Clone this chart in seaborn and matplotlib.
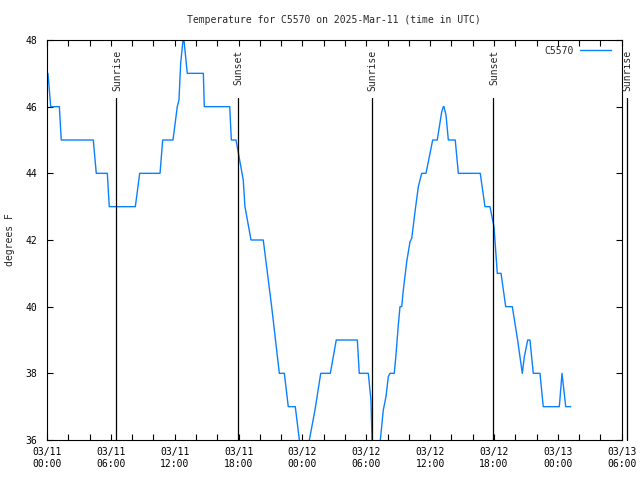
import matplotlib
matplotlib.use('Agg')
import matplotlib.pyplot as plt
import matplotlib.transforms as mtransforms
from matplotlib.ticker import FixedLocator, MultipleLocator
import pandas as pd
import seaborn as sns

# hours since 2025-03-11 00:00 UTC, temperature in F
hours = [0.09, 0.35, 1.16, 1.34, 4.35, 4.63, 5.67, 5.85, 8.30, 8.71,
         10.62, 10.87, 11.84, 12.24, 12.40, 12.56, 12.78, 12.87, 13.18, 14.69,
         14.78, 17.17, 17.32, 17.76, 18.44, 18.60, 19.17, 20.32, 21.11, 21.83,
         22.30, 22.67, 23.33, 23.71, 23.96, 24.43, 24.65, 25.18, 25.72, 26.62,
         27.18, 29.16, 29.34, 30.19, 30.44, 30.54, 30.72, 31.10, 31.32, 31.60,
         31.85, 32.07, 32.23, 32.63, 32.79, 33.01, 33.17, 33.33, 33.48, 33.80,
         34.11, 34.27, 34.58, 34.89, 35.21, 35.61, 35.99, 36.24, 36.67, 37.09,
         37.24, 37.30, 37.49, 37.71, 38.36, 38.65, 40.71, 41.15, 41.62, 42.00,
         42.31, 42.66, 43.10, 43.72, 44.22, 44.66, 44.85, 45.17, 45.38, 45.69,
         46.32, 46.63, 48.14, 48.39, 48.74, 49.21]
temps = [47.0, 46.0, 46.0, 45.0, 45.0, 44.0, 44.0, 43.0, 43.0, 44.0,
         44.0, 45.0, 45.0, 46.0, 46.2, 47.3, 48.0, 48.0, 47.0, 47.0,
         46.0, 46.0, 45.0, 45.0, 43.8, 43.0, 42.0, 42.0, 40.0, 38.0,
         38.0, 37.0, 37.0, 36.0, 35.5, 35.5, 36.0, 36.9, 38.0, 38.0,
         39.0, 39.0, 38.0, 38.0, 37.2, 36.0, 35.5, 35.5, 36.0, 36.9,
         37.3, 37.9, 38.0, 38.0, 38.55, 39.45, 40.0, 40.0, 40.5, 41.35,
         41.95, 42.05, 42.85, 43.6, 44.0, 44.0, 44.6, 45.0, 45.0, 45.85,
         46.0, 46.0, 45.75, 45.0, 45.0, 44.0, 44.0, 43.0, 43.0, 42.4,
         41.0, 41.0, 40.0, 40.0, 39.0, 38.0, 38.5, 39.0, 39.0, 38.0,
         38.0, 37.0, 37.0, 38.0, 37.0, 37.0]

event_hours = [6.51, 17.9, 30.5, 41.93, 54.47]
event_names = ['Sunrise', 'Sunset', 'Sunrise', 'Sunset', 'Sunrise']

tick_hours = [0, 6, 12, 18, 24, 30, 36, 42, 48, 54]
tick_labels = ['03/11\n00:00', '03/11\n06:00', '03/11\n12:00', '03/11\n18:00',
               '03/12\n00:00', '03/12\n06:00', '03/12\n12:00', '03/12\n18:00',
               '03/13\n00:00', '03/13\n06:00']

sns.set_style('ticks')
plt.rcParams['font.family'] = ['DejaVu Sans Mono']
plt.rcParams['font.size'] = 7

fig = plt.figure(figsize=(6.4, 4.8), dpi=100)
ax = fig.add_axes([47 / 640, 40 / 480, 574.7 / 640, 400 / 480])

df = pd.DataFrame({'hours': hours, 'temp': temps})
sns.lineplot(data=df, x='hours', y='temp', ax=ax, color='#0a80ff', lw=1.0,
             label='C5570', sort=False, estimator=None)

ax.set_xlim(0, 54)
ax.set_ylim(36, 48)
ax.xaxis.set_major_locator(FixedLocator(tick_hours))
ax.set_xticklabels(tick_labels)
ax.xaxis.set_minor_locator(MultipleLocator(2))
ax.yaxis.set_major_locator(MultipleLocator(2))
ax.tick_params(which='both', direction='in', top=True, right=True,
               length=4, width=0.8, colors='black', labelsize=7)
ax.tick_params(axis='x', pad=5)
ax.tick_params(axis='y', pad=7)
for s in ax.spines.values():
    s.set_linewidth(0.8)
    s.set_color('black')

# sunrise / sunset markers
trans = mtransforms.blended_transform_factory(ax.transData, ax.transAxes)
for t, name in zip(event_hours, event_names):
    ax.plot([t, t], [0, 0.855], color='black', lw=0.9, transform=trans, clip_on=False)
    ax.text(t + 0.1, 0.975, name, rotation=90, ha='center', va='top',
            transform=trans, fontsize=7, clip_on=False)

ax.set_title('Temperature for C5570 on 2025-Mar-11 (time in UTC)', fontsize=7, pad=12)
ax.set_xlabel('')
ax.set_ylabel('degrees F', fontsize=7)
ax.yaxis.set_label_coords(-0.056, 0.5)

ax.legend(loc='upper right', bbox_to_anchor=(1 - 5 / 574.7, 1), frameon=False,
          markerfirst=False, fontsize=7, handlelength=3.2, handletextpad=0.6,
          borderaxespad=0.4, borderpad=0.2)

fig.savefig('out.png', dpi=100)
